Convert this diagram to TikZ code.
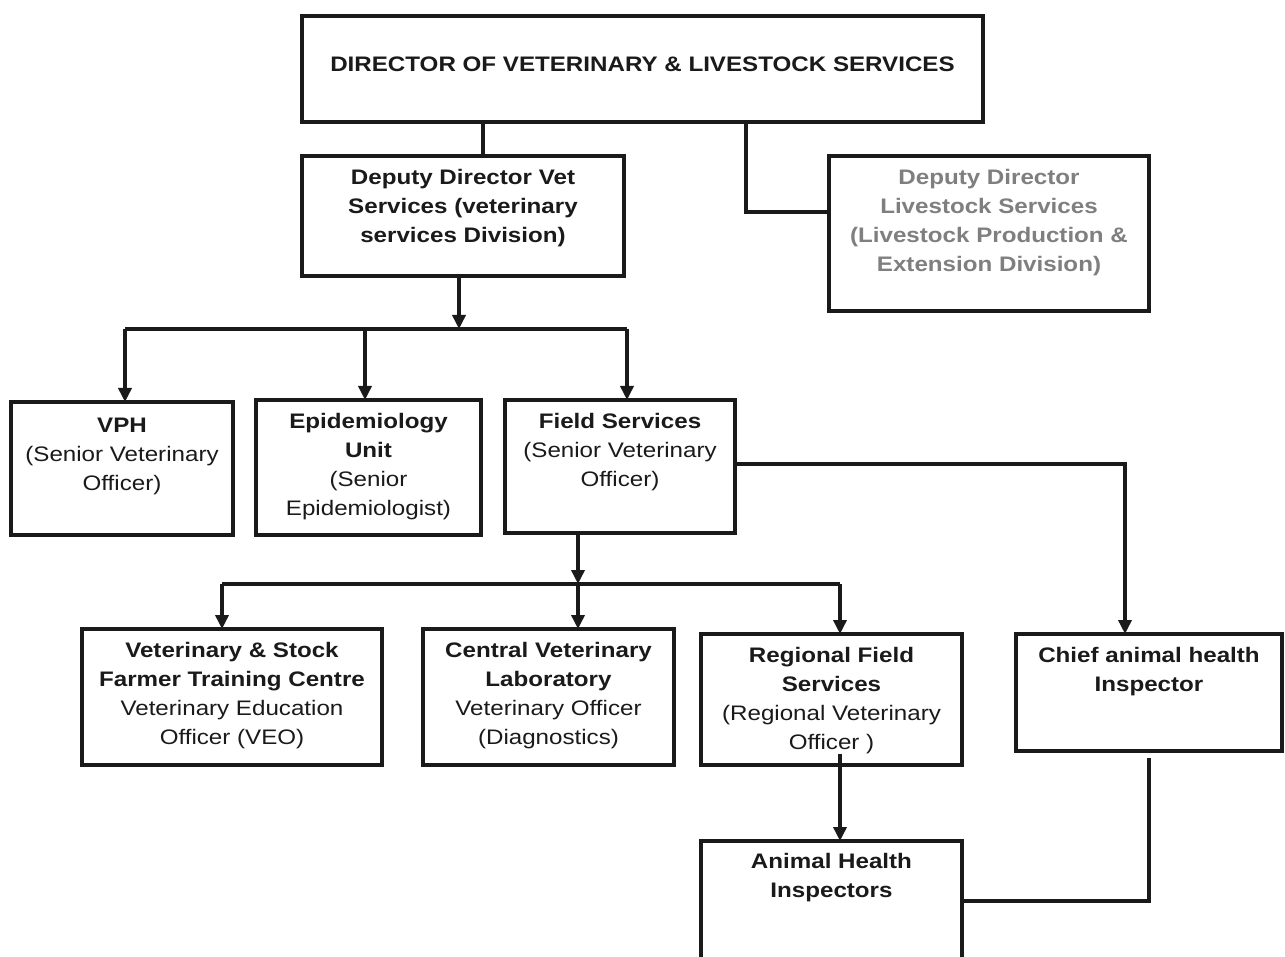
\documentclass[tikz,border=0pt]{standalone}
\usepackage{fontspec}
\setmainfont{Liberation Sans}[FakeStretch=1.15]
\usetikzlibrary{arrows.meta}
\definecolor{ink}{HTML}{1A1A1A}
\definecolor{greytxt}{HTML}{7F7F7F}
\newcommand\fs{\fontsize{21}{29}\selectfont}
\newcommand\st{\rule{0pt}{18pt}}
\begin{document}
\begin{tikzpicture}[x=1pt,y=-1pt,
  box/.style={draw=ink, line width=4pt, inner sep=0pt, outer sep=0pt},
  lbl/.style={anchor=north, inner sep=0pt, yshift=-10.5pt, align=center, font=\fs, text=ink},
  line/.style={draw=ink, line width=4pt},
  arr/.style={line, -{Triangle[length=14pt,width=13pt]}}]
\useasboundingbox (0,0) rectangle (1285,957);
\fill[white] (0,0) rectangle (1285,957);
\clip (0,0) rectangle (1285,957);
% boxes
\node[box, minimum width=681pt, minimum height=106pt,
  label={[lbl,yshift=-27pt]north:{\st\bfseries DIRECTOR OF VETERINARY \& LIVESTOCK SERVICES}}] (dir) at (642.5,69) {};
\node[box, minimum width=322pt, minimum height=120pt,
  label={[lbl]north:{\st\bfseries Deputy Director Vet\\\bfseries Services (veterinary\\\bfseries services Division)}}] (dvet) at (463,216) {};
\node[box, minimum width=320pt, minimum height=155pt,
  label={[lbl,text=greytxt]north:{\st\bfseries Deputy Director\\\bfseries Livestock Services\\\bfseries (Livestock Production \&\\\bfseries Extension Division)}}] (dlive) at (989,233.5) {};
\node[box, minimum width=222pt, minimum height=133pt,
  label={[lbl,yshift=-1.5pt]north:{\st\bfseries VPH\\(Senior Veterinary\\Officer)}}] (vph) at (122,468.5) {};
\node[box, minimum width=225pt, minimum height=135pt,
  label={[lbl]north:{\st\bfseries Epidemiology\\\bfseries Unit\\(Senior\\Epidemiologist)}}] (epi) at (368.5,467.5) {};
\node[box, minimum width=230pt, minimum height=133pt,
  label={[lbl]north:{\st\bfseries Field Services\\(Senior Veterinary\\Officer)}}] (field) at (620,466.5) {};
\node[box, minimum width=300pt, minimum height=136pt,
  label={[lbl]north:{\st\bfseries Veterinary \& Stock\\\bfseries Farmer Training Centre\\Veterinary Education\\Officer (VEO)}}] (vst) at (232,697) {};
\node[box, minimum width=251pt, minimum height=136pt,
  label={[lbl]north:{\st\bfseries Central Veterinary\\\bfseries Laboratory\\Veterinary Officer\\(Diagnostics)}}] (cvl) at (548.5,697) {};
\node[box, minimum width=261pt, minimum height=131pt,
  label={[lbl]north:{\st\bfseries Regional Field\\\bfseries Services\\(Regional Veterinary\\Officer )}}] (reg) at (831.5,699.5) {};
\node[box, minimum width=266pt, minimum height=117pt,
  label={[lbl]north:{\st\bfseries Chief animal health\\\bfseries Inspector}}] (chief) at (1149,692.5) {};
\node[box, minimum width=261pt, minimum height=139pt,
  label={[lbl,yshift=1pt]north:{\st\bfseries Animal Health\\\bfseries Inspectors}}] (ahi) at (831.5,910.5) {};
% coordinates
\coordinate (j1) at (459,329);
\coordinate (b1l) at (125,329);
\coordinate (b1r) at (627,329);
\coordinate (j2) at (578,584);
\coordinate (b2l) at (222,584);
\coordinate (b2r) at (840,584);
\coordinate (rs) at (840,754);
\coordinate (cs) at (1149,758);
% connectors
\draw[line] (dir.south -| 483,0) -- (dvet.north -| 483,0);
\draw[line] (dir.south -| 746,0) |- (dlive.west |- 0,212);
\draw[arr] (dvet.south -| j1) -- (j1);
\draw[line] (b1l) -- (b1r);
\draw[arr] (b1l) -- (vph.north -| b1l);
\draw[arr] (j1 -| 365,0) -- (epi.north -| 365,0);
\draw[arr] (b1r) -- (field.north -| b1r);
\draw[arr] (field.east |- 0,464) -| (chief.north -| 1125,0);
\draw[arr] (field.south -| j2) -- (j2);
\draw[line] (b2l) -- (b2r);
\draw[arr] (b2l) -- (vst.north -| b2l);
\draw[arr] (j2) -- (cvl.north -| j2);
\draw[arr] (b2r) -- (reg.north -| b2r);
\draw[arr] (rs) -- (ahi.north -| rs);
\draw[line] (cs) |- (ahi.east |- 0,901);
\end{tikzpicture}
\end{document}
